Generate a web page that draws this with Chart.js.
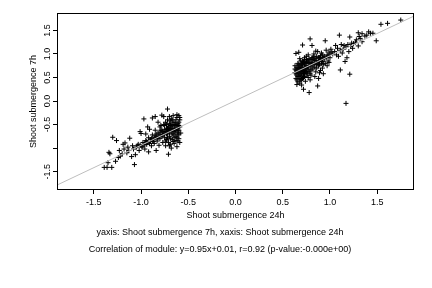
<!DOCTYPE html>
<html>
<head>
<meta charset="utf-8">
<script src="https://cdn.jsdelivr.net/npm/chart.js@4"></script>
<style>
  html, body { margin: 0; padding: 0; background: #fff; }
  #chart { display: block; }
</style>
</head>
<body>
<canvas id="chart" width="432" height="288"></canvas>
<script>
// points: lower cluster (both down) and upper cluster (both up)
const lowX = [
  -1.39,-1.36,-1.31,-1.35,-1.27,-1.34,-1.33,-1.30,-1.26,-1.24,
  -1.22,-1.19,-1.17,-1.20,-1.15,-1.12,-1.13,-1.10,-1.08,-1.07,
  -1.05,-1.06,-1.03,-1.01,-1.00,-1.02,-0.98,-0.97,-0.99,-0.96,
  -0.95,-0.94,-0.93,-0.92,-0.91,-0.90,-0.89,-0.88,-0.87,-0.86,
  -0.85,-0.85,-0.84,-0.83,-0.82,-0.81,-0.80,-0.80,-0.79,-0.78,
  -0.78,-0.77,-0.76,-0.76,-0.75,-0.75,-0.74,-0.74,-0.73,-0.73,
  -0.72,-0.72,-0.72,-0.71,-0.71,-0.71,-0.70,-0.70,-0.70,-0.69,
  -0.69,-0.68,-0.68,-0.68,-0.67,-0.67,-0.66,-0.66,-0.66,-0.65,
  -0.65,-0.64,-0.64,-0.63,-0.63,-0.62,-0.62,-0.62,-0.61,-0.61,
  -0.60,-0.60,-0.60,-0.59,-0.59,-0.59,-0.58,-1.04,-0.97,-0.93,
  -0.90,-0.88,-0.86,-0.84,-0.82,-0.80,-0.78,-0.77,-0.75,-0.73,
  -0.70,-0.69,-0.67,-0.65,-0.64,-0.63,-0.61,-0.66,-0.70,-0.74,
  -0.84,-0.92,-0.88,-0.82,-0.79,-0.95,-1.09,-1.14,-1.18,-1.23,
  -0.62,-0.60,-0.61,-0.63,-0.60,-0.65,-0.67,-0.69,-0.72,-0.76,
  -0.59,-0.60,-0.61,-0.62,-0.63,-0.64,-0.65,-0.66,-0.67,-0.68,
  -0.69,-0.70,-0.71,-0.72,-0.73,-0.74,-0.75,-0.77,-0.79,-0.81,
  -0.83,-0.85,-0.87,-0.89,-0.91,-0.94,-0.96,-0.99,-1.01,-0.61
];
const lowY = [
  -1.41,-1.41,-1.41,-1.31,-1.28,-1.09,-1.12,-0.77,-0.84,-1.20,
  -1.17,-0.92,-0.89,-1.12,-1.10,-0.79,-1.05,-1.18,-1.02,-1.35,
  -0.98,-1.14,-0.92,-0.65,-0.69,-1.05,-0.88,-0.38,-0.96,-1.02,
  -0.84,-0.92,-0.55,-0.78,-0.60,-0.86,-0.95,-0.72,-0.82,-0.90,
  -0.33,-0.62,-0.76,-0.85,-0.68,-0.94,-0.55,-0.80,-0.72,-0.30,
  -0.62,-0.88,-0.33,-0.50,-0.70,-0.78,-0.45,-0.95,-0.60,-0.82,
  -0.17,-0.40,-0.68,-1.13,-0.55,-0.88,-0.33,-0.48,-0.75,-0.62,
  -0.92,-1.00,-0.38,-0.55,-0.70,-0.82,-0.31,-0.45,-0.62,-0.78,
  -0.90,-0.52,-0.68,-0.40,-0.84,-0.29,-0.58,-0.97,-0.48,-0.72,
  -0.31,-0.62,-0.80,-0.55,-0.40,-0.88,-0.68,-0.95,-0.93,-0.88,
  -0.82,-0.85,-0.78,-0.70,-0.78,-0.66,-0.75,-0.65,-0.60,-0.70,
  -0.60,-0.52,-0.58,-0.50,-0.60,-0.62,-0.66,-0.86,-0.95,-0.85,
  -1.05,-1.08,-0.36,-0.45,-0.52,-0.70,-0.95,-0.98,-1.02,-1.05,
  -0.35,-0.45,-0.55,-0.75,-0.70,-0.65,-0.40,-0.80,-0.58,-0.68,
  -0.35,-0.52,-0.62,-0.78,-0.50,-0.45,-0.58,-0.72,-0.50,-0.65,
  -0.42,-0.68,-0.62,-0.78,-0.50,-0.65,-0.52,-0.72,-0.62,-0.72,
  -0.80,-0.74,-0.86,-0.80,-0.90,-0.86,-0.92,-0.98,-0.94,-0.85
];
const highX = [
  1.75,1.61,1.54,1.49,1.41,1.43,1.455,1.30,1.34,1.32,
  1.31,1.37,1.39,1.34,1.30,1.21,1.23,1.10,1.11,1.21,
  1.17,1.16,1.18,1.20,1.17,1.14,1.12,1.25,1.27,1.15,
  1.19,1.08,1.06,1.05,1.09,1.03,1.01,1.00,0.99,0.98,
  0.97,0.96,0.95,0.94,0.93,0.92,0.91,0.90,0.89,0.88,
  0.87,0.87,0.86,0.85,0.85,0.84,0.83,0.82,0.82,0.81,
  0.80,0.80,0.79,0.79,0.78,0.78,0.77,0.77,0.76,0.76,
  0.75,0.75,0.74,0.74,0.73,0.73,0.72,0.72,0.72,0.71,
  0.71,0.71,0.70,0.70,0.70,0.69,0.69,0.69,0.68,0.68,
  0.68,0.67,0.67,0.67,0.66,0.66,0.66,0.65,0.65,0.65,
  0.64,0.64,0.64,0.63,0.63,0.72,0.74,0.76,0.78,0.80,
  0.82,0.84,0.86,0.88,0.90,0.92,0.94,0.96,0.98,1.00,
  1.02,0.70,0.73,0.75,0.68,0.66,0.71,0.73,0.77,0.83,
  0.86,0.89,0.92,0.95,0.97,0.84,0.88,0.79,0.70,0.68,
  0.81,0.91,0.93,0.99,1.07,1.11,1.13,1.22,1.24,1.28,
  0.64,0.65,0.66,0.67,0.68,0.69,0.70,0.71,0.72,0.73,
  0.74,0.75,0.76,0.77,0.78,0.79,0.80,0.81,0.82,0.83,
  0.84,0.85,0.86,0.87,0.88,0.89,0.90,0.91,0.92,0.93,
  0.63,0.65,0.67,0.69,0.71,0.73,0.75,0.77,0.79,0.81
];
const highY = [
  1.72,1.65,1.63,1.28,1.47,1.44,1.44,1.45,1.43,1.33,
  1.37,1.38,1.40,1.26,1.17,1.36,1.23,1.40,0.66,0.57,
  -0.05,0.84,0.92,1.05,1.15,1.10,1.20,1.22,1.25,1.18,
  1.20,1.12,1.18,1.05,0.95,1.00,1.10,0.92,1.04,0.85,
  0.98,1.08,1.28,0.90,0.78,0.98,0.85,0.65,0.92,0.75,
  0.32,1.05,0.85,0.62,1.06,0.80,0.95,0.70,0.88,1.18,
  0.55,0.82,1.32,0.66,0.18,0.90,0.75,0.50,0.85,0.62,
  0.95,0.70,0.42,0.80,0.58,0.88,0.25,0.68,0.50,1.19,
  0.78,0.62,0.34,0.72,0.55,0.85,0.45,0.65,0.76,0.58,
  0.38,0.70,0.52,1.035,0.62,0.41,0.80,0.55,0.72,0.35,
  0.66,0.48,1.01,0.60,0.75,0.82,0.70,0.72,0.80,0.74,
  0.80,0.86,0.78,0.84,0.88,0.90,0.95,0.92,0.96,1.00,
  1.04,0.62,0.65,0.60,0.68,0.70,0.85,0.92,0.98,1.00,
  0.70,0.60,0.70,0.80,0.75,0.52,0.48,0.45,0.45,0.90,
  0.92,1.02,0.58,0.82,0.98,1.08,1.02,1.16,1.12,1.30,
  0.58,0.64,0.52,0.60,0.48,0.72,0.80,0.68,0.58,0.76,
  0.62,0.82,0.55,0.68,0.62,0.76,0.88,0.66,0.92,0.78,
  0.72,0.90,0.95,0.82,0.92,0.78,0.96,0.80,0.84,0.92,
  0.68,0.45,0.78,0.55,0.48,0.52,0.88,0.85,0.58,0.80
];

// fitted line y=0.95x+0.01, end points past the plot edges
const fitX = [-2.0, 2.0];
const fitY = [-1.89, 1.91];

const xTicks = [-1.5, -1.0, -0.5, 0.0, 0.5, 1.0, 1.5];
const yTicks = [-1.5, -1.0, -0.5, 0.0, 0.5, 1.0, 1.5];

const xTitle = 'Shoot submergence 24h';
const yTitle = 'Shoot submergence 7h';
const subLines = [
  'yaxis: Shoot submergence 7h, xaxis: Shoot submergence 24h',
  'Correlation of module: y=0.95x+0.01, r=0.92 (p-value:-0.000e+00)'
];

const points = lowX.map((x, i) => ({ x: x, y: lowY[i] }))
  .concat(highX.map((x, i) => ({ x: x, y: highY[i] })));
const fitLine = fitX.map((x, i) => ({ x: x, y: fitY[i] }));

const font = { family: "'Liberation Sans', Arial, sans-serif", size: 9 };

// R style box round the plot region
const boxPlugin = {
  id: 'box',
  afterDraw(chart) {
    const a = chart.chartArea;
    const c = chart.ctx;
    c.save();
    c.strokeStyle = '#000';
    c.lineWidth = 1;
    c.strokeRect(Math.round(a.left) + 0.5, Math.round(a.top) + 0.5,
      Math.round(a.right - a.left) - 1, Math.round(a.bottom - a.top) - 1);
    c.restore();
  }
};

Chart.defaults.color = '#000';

new Chart(document.querySelector('#chart'), {
  type: 'scatter',
  data: {
    datasets: [
      {
        label: 'fit',
        data: fitLine,
        showLine: true,
        borderColor: '#bebebe',
        borderWidth: 1,
        pointRadius: 0,
        order: 0
      },
      {
        label: 'module',
        data: points,
        pointStyle: 'cross',
        pointRadius: 2.5,
        borderColor: '#000',
        borderWidth: 1,
        order: 1
      }
    ]
  },
  options: {
    responsive: false,
    animation: false,
    devicePixelRatio: 1,
    layout: { padding: { top: 13, right: 18, bottom: 29.5, left: 26 } },
    plugins: {
      legend: { display: false },
      tooltip: { enabled: false },
      title: {
        display: true,
        position: 'bottom',
        text: subLines,
        color: '#000',
        font: { family: font.family, size: 9, weight: 'normal', lineHeight: '17px' },
        padding: { top: 2.5, bottom: 0 }
      }
    },
    scales: {
      x: {
        type: 'linear',
        min: -1.89,
        max: 1.89,
        afterFit(s) { s.height = 32; },
        afterBuildTicks(s) { s.ticks = xTicks.map(v => ({ value: v })); },
        border: { display: false },
        grid: { drawOnChartArea: false, drawTicks: true, tickLength: 4, color: '#000' },
        ticks: {
          font: font,
          padding: 3,
          maxRotation: 0,
          callback: v => v.toFixed(1)
        },
        title: { display: true, text: xTitle, font: font, padding: { top: 0, bottom: 0.6 } }
      },
      y: {
        type: 'linear',
        min: -1.89,
        max: 1.87,
        afterFit(s) { s.width = 31; },
        afterBuildTicks(s) { s.ticks = yTicks.map(v => ({ value: v })); },
        border: { display: false },
        grid: { drawOnChartArea: false, drawTicks: true, tickLength: 4, color: '#000' },
        ticks: {
          font: font,
          padding: -2.5,
          minRotation: 90,
          maxRotation: 90,
          crossAlign: 'center',
          // R drops the -1.0 label because it would overlap
          callback: v => (v === -1 ? '' : v.toFixed(1))
        },
        title: { display: true, text: yTitle, font: font, padding: { top: 2.6, bottom: 0 } }
      }
    }
  },
  plugins: [boxPlugin]
});
</script>
</body>
</html>
